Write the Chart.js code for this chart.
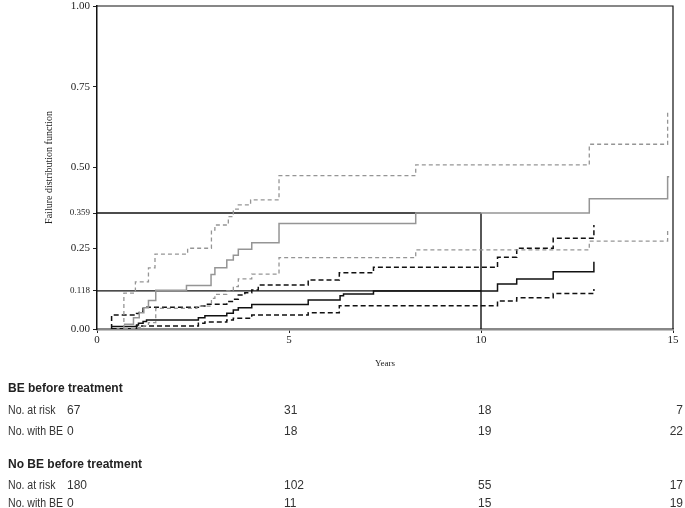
<!DOCTYPE html>
<html>
<head>
<meta charset="utf-8">
<script src="https://cdn.jsdelivr.net/npm/chart.js@4.4.1/dist/chart.umd.min.js"></script>
<style>
  body { margin: 0; background: #fff; overflow: hidden; }
  #wrap { position: relative; width: 685px; height: 508px; overflow: hidden; }
  #risk div { position: absolute; font: 12px "Liberation Sans", Arial, sans-serif; color: #333; line-height: 14px; white-space: nowrap; }
  #risk .head { font-weight: bold; color: #222; }
  #risk .lab { transform: scaleX(0.88); transform-origin: left center; }
</style>
</head>
<body>
<div id="wrap">
  <canvas id="km" width="685" height="508"></canvas>
  <div id="risk"></div>
</div>
<script>
// axis ticks
const xTickYears = [0, 5, 10, 15];
const yTickValues = [0, 0.118, 0.25, 0.359, 0.5, 0.75, 1];
const yTickLabels = ["0.00", "0.118", "0.25", "0.359", "0.50", "0.75", "1.00"];

// reference lines (read-off at 10 years)
const refYear = 10;
const refLevels = [0.359, 0.118];

// BE before treatment: estimate + 95% CI
const beTimes = [0.7, 0.95, 1.1, 1.22, 1.34, 1.53, 2.33, 2.97, 3.07, 3.38, 3.55, 3.68, 4.03, 4.74, 8.3, 12.82, 14.86, 14.9];
const beValues = [0.015, 0.035, 0.05, 0.066, 0.088, 0.12, 0.135, 0.169, 0.19, 0.214, 0.228, 0.247, 0.267, 0.327, 0.359, 0.403, 0.471, 0.471];
const beUpperTimes = [0.7, 0.7, 1.0, 1.34, 1.51, 2.36, 2.98, 3.07, 3.42, 3.55, 3.68, 4.0, 4.74, 8.3, 12.82, 14.86, 14.9];
const beUpperValues = [0, 0.111, 0.146, 0.189, 0.232, 0.25, 0.306, 0.322, 0.348, 0.371, 0.384, 0.40, 0.475, 0.508, 0.572, 0.67, 0.67];
const beLowerTimes = [0.7, 1.0, 1.22, 1.34, 1.53, 2.6, 2.98, 3.07, 3.38, 3.55, 3.68, 4.03, 4.74, 8.3, 12.82, 14.86, 14.9];
const beLowerValues = [0.002, 0.005, 0.01, 0.02, 0.064, 0.071, 0.095, 0.107, 0.118, 0.131, 0.155, 0.17, 0.221, 0.245, 0.272, 0.306, 0.306];

// No BE before treatment: estimate + 95% CI
const noBeTimes = [0.38, 1.03, 1.08, 1.2, 1.29, 2.64, 2.81, 3.38, 3.55, 3.68, 4.03, 5.5, 6.33, 6.42, 7.2, 10.43, 10.93, 11.88, 12.94];
const noBeValues = [0.008, 0.012, 0.018, 0.023, 0.028, 0.035, 0.041, 0.049, 0.059, 0.066, 0.076, 0.09, 0.103, 0.108, 0.118, 0.139, 0.155, 0.177, 0.208];
const noBeUpperTimes = [0.38, 0.38, 1.03, 1.1, 1.2, 2.64, 2.81, 3.38, 3.55, 3.68, 3.85, 4.03, 4.2, 5.5, 6.31, 7.2, 10.43, 10.93, 11.88, 12.94];
const noBeUpperValues = [0, 0.043, 0.048, 0.054, 0.067, 0.071, 0.077, 0.085, 0.092, 0.105, 0.112, 0.121, 0.136, 0.152, 0.174, 0.191, 0.222, 0.25, 0.281, 0.322];
const noBeLowerTimes = [0.38, 1.03, 2.64, 2.81, 3.38, 3.55, 4.03, 5.5, 6.31, 10.43, 10.93, 11.88, 12.94];
const noBeLowerValues = [0.001, 0.009, 0.018, 0.022, 0.028, 0.033, 0.043, 0.05, 0.072, 0.087, 0.097, 0.11, 0.124];

// numbers at risk table
const beAtRisk = [67, 31, 18, 7];
const beWithBE = [0, 18, 19, 22];
const noBeAtRisk = [180, 102, 55, 17];
const noBeWithBE = [0, 11, 15, 19];

const serif = "'Liberation Serif', 'Times New Roman', serif";
const grey = "#959595";

function pts(t, v) {
  return t.map((x, i) => ({ x: x, y: v[i] }));
}

function stepSet(t, v, color, dash, width) {
  return {
    data: pts(t, v),
    borderColor: color,
    borderWidth: width,
    borderDash: dash,
    stepped: 'before',
    pointRadius: 0,
    fill: false
  };
}

const refSets = refLevels.map(level => ({
  data: [{ x: 0, y: level }, { x: refYear, y: level }],
  borderColor: "#111",
  borderWidth: 1.4,
  pointRadius: 0,
  fill: false
}));
refSets.push({
  data: [{ x: refYear, y: Math.max(...refLevels) }, { x: refYear, y: 0 }],
  borderColor: "#111",
  borderWidth: 1.4,
  pointRadius: 0,
  fill: false
});

// top and right border of the plot box
const frame = {
  id: 'frame',
  afterDraw(chart) {
    const { ctx, chartArea: a } = chart;
    ctx.save();
    ctx.strokeStyle = "#111";
    ctx.lineWidth = 1.2;
    ctx.beginPath();
    ctx.moveTo(a.left, a.top);
    ctx.lineTo(a.right, a.top);
    ctx.lineTo(a.right, a.bottom);
    ctx.stroke();
    ctx.restore();
  }
};

new Chart(document.getElementById("km"), {
  type: 'line',
  data: {
    datasets: [
      stepSet(beUpperTimes, beUpperValues, grey, [4, 3], 1.3),
      stepSet(beLowerTimes, beLowerValues, grey, [4, 3], 1.3),
      stepSet(beTimes, beValues, grey, [], 1.5),
      stepSet(noBeUpperTimes, noBeUpperValues, "#111", [5, 3], 1.5),
      stepSet(noBeLowerTimes, noBeLowerValues, "#111", [5, 3], 1.5),
      stepSet(noBeTimes, noBeValues, "#111", [], 1.5),
      ...refSets
    ]
  },
  options: {
    responsive: false,
    animation: false,
    layout: { padding: { left: 0, right: 12, top: 6, bottom: 136 } },
    plugins: { legend: { display: false }, tooltip: { enabled: false } },
    scales: {
      x: {
        type: 'linear',
        min: 0,
        max: 15,
        afterBuildTicks: s => { s.ticks = xTickYears.map(v => ({ value: v })); },
        afterFit: s => { s.height = 43; s.paddingLeft = 0; s.paddingRight = 0; },
        ticks: { font: { family: serif, size: 11 }, color: "#222", padding: 1, maxRotation: 0 },
        grid: { drawOnChartArea: false, drawTicks: true, tickLength: 4, color: "#222" },
        border: { color: "#888", width: 2.5 },
        title: { display: true, text: "Years", font: { family: serif, size: 9 }, color: "#222", padding: { top: 0, bottom: 3 } }
      },
      y: {
        min: 0,
        max: 1,
        afterBuildTicks: s => { s.ticks = yTickValues.map(v => ({ value: v })); },
        afterFit: s => { s.width = 97; s.paddingTop = 0; s.paddingBottom = 0; },
        ticks: {
          autoSkip: false,
          padding: 3,
          color: "#222",
          font: c => ({ family: serif, size: (c.tick && (c.tick.value === 0.118 || c.tick.value === 0.359)) ? 9 : 11 }),
          callback: v => yTickLabels[yTickValues.indexOf(v)]
        },
        grid: { drawOnChartArea: false, drawTicks: true, tickLength: 4, color: "#222" },
        border: { color: "#111", width: 1.5 },
        title: { display: true, text: "Failure distribution function", font: { family: serif, size: 10 }, color: "#222", padding: { top: 43 } }
      }
    }
  },
  plugins: [frame]
});

// numbers at risk, written as HTML text under the chart
const risk = document.getElementById("risk");
const colLeft = [67, 284, 478];

function addText(text, x, y, cls) {
  const d = document.createElement("div");
  d.textContent = text;
  d.style.left = x + "px";
  d.style.top = (y - 7) + "px";
  if (cls) d.className = cls;
  risk.appendChild(d);
}

function addRow(label, values, y) {
  addText(label, 8, y, "lab");
  values.forEach((v, i) => {
    if (i < colLeft.length) {
      addText(String(v), colLeft[i], y);
    } else {
      const d = document.createElement("div");
      d.textContent = String(v);
      d.style.right = "2px";
      d.style.top = (y - 7) + "px";
      risk.appendChild(d);
    }
  });
}

addText("BE  before treatment", 8, 388, "head");
addRow("No. at risk", beAtRisk, 410);
addRow("No. with BE", beWithBE, 431);
addText("No BE  before treatment", 8, 464, "head");
addRow("No. at risk", noBeAtRisk, 485);
addRow("No. with BE", noBeWithBE, 503);
</script>
</body>
</html>
